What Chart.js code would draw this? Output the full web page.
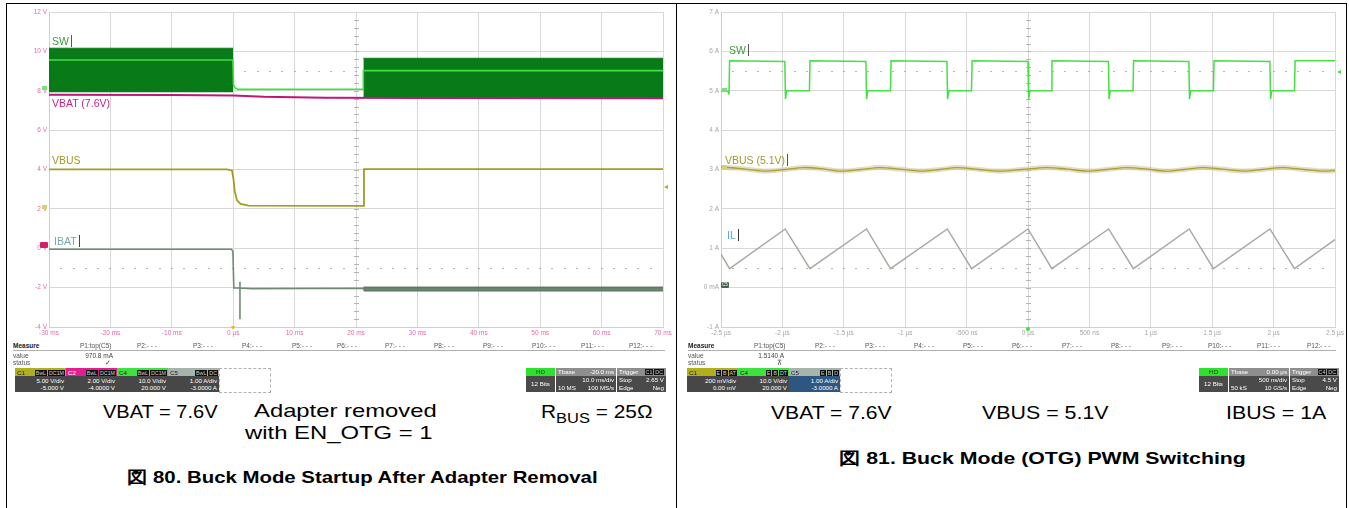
<!DOCTYPE html>
<html><head><meta charset="utf-8">
<script src="https://cdn.jsdelivr.net/npm/chart.js@4.4.1/dist/chart.umd.min.js"></script>
<style>
html,body{margin:0;padding:0;background:#fff;}
#root{position:relative;width:1349px;height:508px;overflow:hidden;font-family:"Liberation Sans",Arial,sans-serif;background:#fff;}
.a{position:absolute;white-space:nowrap;}
canvas{position:absolute;top:0;}
.tr{position:absolute;white-space:nowrap;font-size:10.5px;line-height:12px;}
.cur{display:inline-block;width:1px;height:12px;background:#555;vertical-align:top;margin-left:2px;}
.sm{position:absolute;white-space:nowrap;font-size:6.5px;line-height:7px;color:#333;}
.box{position:absolute;top:368px;height:24px;width:51px;font-size:6.2px;line-height:7px;overflow:hidden;}
.bh{height:8px;position:relative;}
.bh .n{position:absolute;left:2px;top:0.5px;}
.bh .tg{position:absolute;right:1px;top:1px;}
.tg span{display:inline-block;background:#111;color:#ccc;padding:0 1px;margin-left:1px;height:6px;line-height:6px;font-size:5.3px;}
.bl{height:16px;color:#fff;text-align:right;padding:1px 2px 0 0;box-sizing:border-box;}
.ib{position:absolute;top:368px;height:24px;font-size:6.2px;line-height:7px;color:#fff;background:#4a4a4a;overflow:hidden;}
.ib .r{display:flex;justify-content:space-between;padding:0 2px;height:7.5px;}
.sub{position:absolute;white-space:nowrap;font-size:19px;line-height:22px;color:#000;transform-origin:0 50%;}
.cap{position:absolute;white-space:nowrap;font-size:17px;line-height:20px;font-weight:bold;color:#000;transform-origin:0 50%;}
</style></head><body><div id="root">
<canvas id="cL" width="676" height="342" style="left:0px;width:676px;height:342px"></canvas>
<canvas id="cR" width="671" height="342" style="left:676px;width:671px;height:342px"></canvas>
</div>
<script>
// ---------- tick values / labels ----------
const L_XT=[-30,-20,-10,0,10,20,30,40,50,60,70];
const L_XL=['-30 ms','-20 ms','-10 ms','0 µs','10 ms','20 ms','30 ms','40 ms','50 ms','60 ms','70 ms'];
const L_YT=[-4,-2,0,2,4,6,8,10,12];
const L_YL=['-4 V','-2 V','0 V','2 V','4 V','6 V','8 V','10 V','12 V'];
const R_XT=[-2.5,-2,-1.5,-1,-0.5,0,0.5,1,1.5,2,2.5];
const R_XL=['-2.5 µs','-2 µs','-1.5 µs','-1 µs','-500 ns','0 µs','500 ns','1 µs','1.5 µs','2 µs','2.5 µs'];
const R_YT=[-1,0,1,2,3,4,5,6,7];
const R_YL=['-1 A','0 mA','1 A','2 A','3 A','4 A','5 A','6 A','7 A'];

// ---------- Figure 80 (time in ms, values in V on display grid) ----------
const swBurstA_t=[-30,0];    const swBurstA_hi=[10.16,10.16]; const swBurstA_lo=7.92;
const swBurstB_t=[21.2,70];  const swBurstB_hi=[9.65,9.65];   const swBurstB_lo=7.63;
const swMid_t=[-30,-0.05,0.05,0.3,0.8,21.15,21.2,70];
const swMid_v=[9.56,9.56,8.3,8.15,8.07,8.08,9.02,9.02];
const vbat_t=[-30,-10,0,5,15,30,70];
const vbat_v=[7.80,7.78,7.76,7.69,7.65,7.63,7.62];
const vbusL_t=[-30,-1,-0.2,0.05,0.25,0.6,1.2,2.5,21.2,21.3,70];
const vbusL_v=[4.01,4.01,3.95,3.5,2.9,2.45,2.25,2.16,2.15,4.02,4.02];
const ibat_t=[-30,-0.3,-0.05,0.1,1.1,1.1,1.1,1.1,3,21.1,21.25,70];
const ibat_v=[-0.05,-0.05,-0.15,-2.02,-2.02,-3.6,-1.7,-2.02,-2.05,-2.03,-2.08,-2.08];
const ibatBand_t=[21.2,70]; const ibatBand_hi=[-1.97,-1.97]; const ibatBand_lo=-2.2;

// ---------- Figure 81 (time in µs, values in A on display grid) ----------
const swR_t=[-2.5,-2.44,-2.435,-2.43,-1.98,-1.975,-1.965,-1.78,-1.775,-1.32,-1.315,-1.305,-1.12,-1.115,-0.66,-0.655,-0.645,-0.46,-0.455,0,0.005,0.015,0.19,0.195,0.655,0.66,0.67,0.855,0.86,1.31,1.315,1.325,1.51,1.515,1.97,1.975,1.985,2.17,2.175,2.5];
const swR_v=[5.0,4.98,4.9,5.76,5.74,4.79,5.0,5.0,5.76,5.74,4.79,5.0,5.0,5.76,5.74,4.79,5.0,5.0,5.76,5.74,4.79,5.0,5.0,5.76,5.74,4.79,5.0,5.0,5.76,5.74,4.79,5.0,5.0,5.76,5.74,4.79,5.0,5.0,5.76,5.76];
const vbusR_t=[-2.5,-2.35,-2.15,-1.98,-1.83,-1.68,-1.53,-1.36,-1.21,-1.05,-0.88,-0.72,-0.58,-0.4,-0.23,-0.05,0.15,0.32,0.48,0.64,0.8,0.97,1.12,1.27,1.42,1.58,1.75,1.91,2.07,2.25,2.4,2.5];
const vbusR_v=[3.06,3.03,2.96,3.0,3.05,3.02,2.96,3.0,3.05,3.01,2.96,3.0,3.05,3.0,2.96,3.0,3.05,3.01,2.96,3.0,3.05,3.01,2.96,3.0,3.05,3.01,2.96,3.0,3.05,3.0,2.96,2.97];
const il_t=[-2.5,-2.43,-1.977,-1.776,-1.315,-1.12,-0.657,-0.459,0,0.194,0.657,0.858,1.313,1.51,1.97,2.17,2.5];
const il_v=[0.85,0.48,1.49,0.48,1.49,0.48,1.49,0.48,1.49,0.48,1.49,0.48,1.49,0.48,1.49,0.48,1.22];

const pts=(t,v)=>t.map((x,i)=>({x, y: v[i]}));
Chart.defaults.font.family='"Liberation Sans", Arial, sans-serif';

const scopeMarks={
  id:'scopeMarks',
  beforeDatasetsDraw(chart,args,o){
    const {ctx,chartArea:a,scales:{x,y}}=chart;
    ctx.save(); ctx.fillStyle=o.color;
    const xs=Math.abs(x.getPixelForValue(x.min+o.xDiv)-x.getPixelForValue(x.min))/5;
    const ys=Math.abs(y.getPixelForValue(y.min+o.yDiv)-y.getPixelForValue(y.min))/5;
    for(const r of o.rows){const py=Math.round(y.getPixelForValue(r));
      for(let px=a.left+xs;px<a.right-2;px+=xs) ctx.fillRect(Math.round(px)-1,py,2,1);}
    const cx=Math.round(x.getPixelForValue(o.cx));
    for(let py=a.top+ys;py<a.bottom-2;py+=ys) ctx.fillRect(cx-2,Math.round(py),5,1);
    ctx.restore();
  }
};

function opts(xT,xL,yT,yL,tickColor,yW,padR,marks){
  return {
    responsive:false,animation:false,devicePixelRatio:1,
    layout:{padding:{left:0,top:12,right:padR,bottom:0}},
    plugins:{legend:{display:false},tooltip:{enabled:false},scopeMarks:marks},
    elements:{point:{radius:0}},
    scales:{
      x:{type:'linear',min:xT[0],max:xT[xT.length-1],
         afterBuildTicks:s=>{s.ticks=xT.map(v=>({value:v}));},
         ticks:{autoSkip:false,maxRotation:0,color:tickColor,font:{size:6.5},padding:2,callback:(v,i)=>xL[i]},
         grid:{color:'#d8d8d8',lineWidth:1,drawTicks:false},border:{color:'#cfcfcf'},
         afterFit:s=>{s.height=15;}},
      y:{type:'linear',min:yT[0],max:yT[yT.length-1],
         afterBuildTicks:s=>{s.ticks=yT.map(v=>({value:v}));},
         ticks:{autoSkip:false,color:tickColor,font:{size:6.5},padding:2,callback:(v,i)=>yL[i]},
         grid:{color:'#d8d8d8',lineWidth:1,drawTicks:false},border:{color:'#cfcfcf'},
         afterFit:s=>{s.width=yW;}}
    }
  };
}
const line=(data,color,w,order,extra)=>Object.assign({data,borderColor:color,borderWidth:w,pointRadius:0,tension:0,fill:false,order},extra||{});

new Chart(document.getElementById('cL'),{
  type:'line',
  data:{datasets:[
    line(pts(swMid_t,swMid_v),'#3fe03f',1.6,1),
    line(pts(vbat_t,vbat_v),'#c0157a',2,2),
    line(pts(swBurstA_t,swBurstA_hi),'#0b7d1a',1,3,{fill:{value:swBurstA_lo},backgroundColor:'#087a18'}),
    line(pts(swBurstB_t,swBurstB_hi),'#0b7d1a',1,3,{fill:{value:swBurstB_lo},backgroundColor:'#087a18'}),
    line(pts(vbusL_t,vbusL_v),'#a39c22',1.8,4),
    line(pts(ibat_t,ibat_v),'#6e8a72',1.6,5),
    line(pts(ibatBand_t,ibatBand_hi),'#5f7a62',1,5,{fill:{value:ibatBand_lo},backgroundColor:'#5f7a62'})
  ]},
  options:opts(L_XT,L_XL,L_YT,L_YL,'#e46aa8',49,13,{rows:[9,-1],cx:20,xDiv:10,yDiv:2,color:'#b5b5b5'}),
  plugins:[scopeMarks]
});
new Chart(document.getElementById('cR'),{
  type:'line',
  data:{datasets:[
    line(pts(swR_t,swR_v),'#44e044',1.5,1),
    line(pts(vbusR_t,vbusR_v),'#a8a030',1.3,2,{tension:0.35}),
    line(pts(vbusR_t,vbusR_v),'rgba(205,195,150,0.55)',5,3,{tension:0.35}),
    line(pts(il_t,il_v),'#a9a9a2',1.5,4)
  ]},
  options:opts(R_XT,R_XL,R_YT,R_YL,'#a6a6a6',45,12,{rows:[5.5,0.5],cx:0,xDiv:0.5,yDiv:1,color:'#b5b5b5'}),
  plugins:[scopeMarks]
});

// ---------- static page elements ----------
const root=document.getElementById('root');
function el(cls,style,html){const d=document.createElement('div');d.className=cls;d.style.cssText=style;d.innerHTML=html;root.appendChild(d);return d;}
// frame lines
el('a','left:6px;top:3px;width:1341px;height:1px;background:#000','');
el('a','left:6px;top:3px;width:1px;height:505px;background:#000','');
el('a','left:676px;top:3px;width:1px;height:505px;background:#000','');
el('a','left:1346px;top:3px;width:1px;height:505px;background:#000','');

// trace labels
el('tr','left:52px;top:35px;color:#3c9a3c','SW<span class="cur"></span>');
el('tr','left:52px;top:97px;color:#c8228a','VBAT (7.6V)');
el('tr','left:52px;top:154px;color:#a09828','VBUS');
el('tr','left:54px;top:235px;color:#7aa4ac','IBAT<span class="cur" style="background:#445"></span>');
el('tr','left:729px;top:44px;color:#3c9a3c','SW<span class="cur"></span>');
el('tr','left:725px;top:154px;color:#a09828','VBUS (5.1V)<span class="cur"></span>');
el('tr','left:727px;top:229px;color:#5aa4d4','IL<span class="cur" style="background:#335"></span>');
// small channel tags / markers
el('a','left:40px;top:242px;width:8px;height:6px;background:#d0206a;border-radius:1px','');
el('a','left:721px;top:282px;width:8px;height:6px;background:#4a6454;border-radius:1px;font-size:4.5px;color:#fff;line-height:6px;text-align:center','C5');
el('a','left:42px;top:86px;width:5px;height:4px;background:#7ce07c','');
el('a','left:42px;top:205px;width:5px;height:4px;background:#d8d070','');
el('a','left:722px;top:88px;width:5px;height:4px;background:#7ce07c','');
el('a','left:722px;top:165px;width:5px;height:4px;background:#d8d070','');
el('a','left:664px;top:185px;width:0;height:0;border-top:2px solid transparent;border-bottom:2px solid transparent;border-right:4px solid #b0a830','');
el('a','left:1337px;top:70px;width:0;height:0;border-top:2px solid transparent;border-bottom:2px solid transparent;border-right:4px solid #40e040','');
el('a','left:231px;top:326px;width:0;height:0;border-left:2px solid transparent;border-right:2px solid transparent;border-top:4px solid #d8c020','');
el('a','left:1026px;top:327px;width:4px;height:4px;border-radius:2px;background:#40e040','');

// measure panels
function measure(x0,x1,pX,val,valRight,statusTxt,statusX){
  el('sm',`left:${x0}px;top:342px;font-weight:bold;color:#222`,'Measure');
  pX.forEach((x,i)=>el('sm',`left:${x}px;top:342px;color:#555`,i===0?'P1:top(C5)':`P${i+1}:- - -`));
  el('a',`left:${x0}px;top:350px;width:${x1-x0}px;height:1px;background:#b0b0b0`,'');
  el('sm',`left:${x0}px;top:352px;color:#555`,'value');
  el('sm',`left:${valRight-40}px;top:352px;width:40px;text-align:right;color:#444`,val);
  el('sm',`left:${x0}px;top:359px;color:#555`,'status');
  el('sm',`left:${statusX}px;top:359px;color:#444`,statusTxt);
}
measure(13,665,[80,137,193,242,292,337,385,434,483,532,581,629],'970.8 mA',113,'✓',105);
measure(688,1336,[754,815,865,914,963,1012,1062,1111,1162,1208,1257,1307],'1.5140 A',784,'⊼',777);

function chBox(x,name,hdr,hdrTxt,tags,l1,l2,lowBg,outline){
  const b=el('box',`left:${x}px;`+(outline?`box-shadow:inset 0 0 0 1px ${outline};`:''),'');
  b.innerHTML=`<div class="bh" style="background:${hdr};color:${hdrTxt}"><span class="n">${name}</span><span class="tg">${tags.map(t=>`<span>${t}</span>`).join('')}</span></div><div class="bl" style="background:${lowBg}"><div>${l1}</div><div>${l2}</div></div>`;
}
chBox(15,'C1','#b3ae1c','#222',['BwL','DC1M'],'5.00 V/div','-5.000 V','#474747');
chBox(66,'C2','#e0208c','#fff',['BwL','DC1M'],'2.00 V/div','-4.0000 V','#474747','#3b8fd8');
chBox(117,'C4','#3ee23e','#222',['BwL','DC1M'],'10.0 V/div','20.000 V','#474747');
chBox(168,'C5','#a6b4ac','#222',['BwL','DC'],'1.00 A/div','-3.0000 A','#474747');
el('a','left:219px;top:368px;width:50px;height:23px;border:1px dashed #b0b0b0','');
chBox(687,'C1','#b3ae1c','#222',['E','B','AT'],'200 mV/div','0.00 mV','#474747');
chBox(738,'C4','#3ee23e','#222',['E','B','DT'],'10.0 V/div','20.000 V','#474747');
chBox(789,'C5','#a6b4ac','#222',['E','B','D'],'1.00 A/div','-3.0000 A','#2d5680','#4a9ae0');
el('a','left:840px;top:368px;width:50px;height:23px;border:1px dashed #b0b0b0','');

function infoBox(x,tb,div,ms,rate,trgTag,lvl){
  el('ib',`left:${x}px;width:29px;text-align:center`,
     `<div style="background:#2fe02f;color:#1a4a1a;height:8px;line-height:8px">HD</div><div style="line-height:15px">12 Bits</div>`);
  el('ib',`left:${x+30}px;width:60px`,
     `<div class="r" style="background:#8e8e8e;height:8px"><span>Tbase</span><span>${tb}</span></div><div class="r"><span></span><span>${div}</span></div><div class="r"><span>${ms}</span><span>${rate}</span></div>`);
  el('ib',`left:${x+91}px;width:49px`,
     `<div class="r" style="background:#8e8e8e;height:8px"><span>Trigger</span><span class="tg"><span>${trgTag}</span><span>DC</span></span></div><div class="r"><span>Stop</span><span>${lvl}</span></div><div class="r"><span>Edge</span><span>Neg</span></div>`);
}
infoBox(526,'-20.0 ms','10.0 ms/div','10 MS','100 MS/s','C1','2.65 V');
infoBox(1199,'0.00 µs','500 ns/div','50 kS','10 GS/s','C4','4.5 V');

// captions
el('sub','left:103px;top:401px','VBAT = 7.6V').dataset.w=115;
el('sub','left:254px;top:400px','Adapter removed').dataset.w=183;
el('sub','left:245px;top:422px','with EN_OTG = 1').dataset.w=187;
el('sub','left:541px;top:401px','R<sub style="font-size:15px;vertical-align:-5px">BUS</sub> = 25Ω').dataset.w=112;
el('cap','left:127px;top:468px','図 80. Buck Mode Startup After Adapter Removal').dataset.w=471;
el('sub','left:771px;top:402px','VBAT = 7.6V').dataset.w=121;
el('sub','left:982px;top:402px','VBUS = 5.1V').dataset.w=126;
el('sub','left:1226px;top:402px','IBUS = 1A').dataset.w=100;
el('cap','left:839px;top:449px','図 81. Buck Mode (OTG) PWM Switching').dataset.w=407;
document.querySelectorAll('[data-w]').forEach(d=>{
  const r=(+d.dataset.w)/d.offsetWidth;
  if(r>0.7&&r<1.6) d.style.transform=`scaleX(${r})`;
});
</script>
</body></html>
